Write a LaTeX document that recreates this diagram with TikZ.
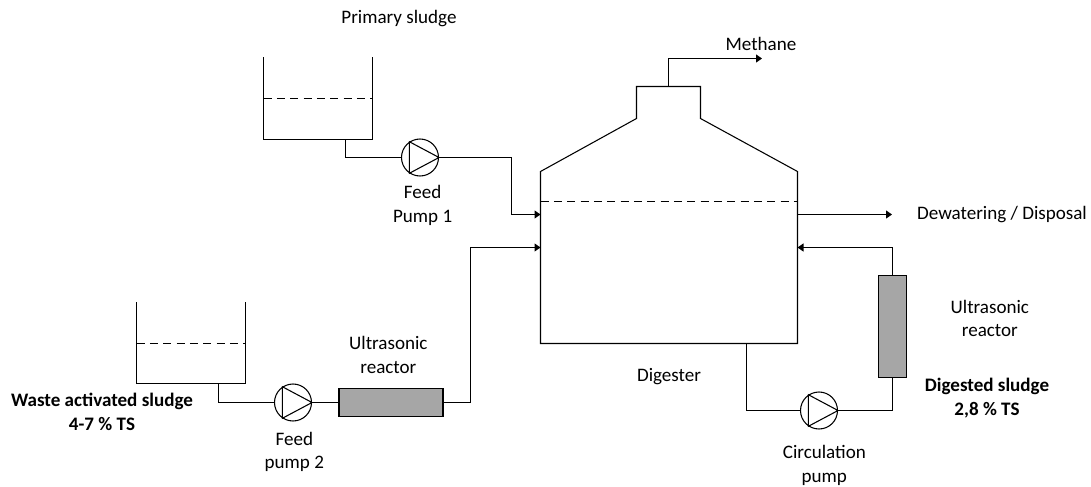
\documentclass[tikz,border=0pt]{standalone}
\usepackage{fontspec}
\setmainfont{Carlito}
\usetikzlibrary{positioning,arrows.meta}
\tikzstyle{arrow} = [line width=0.8pt,->,>={Stealth[length=4.5pt,width=6pt,inset=0pt]}]
\tikzstyle{pipe} = [line width=0.8pt]
\tikzstyle{pump} = [draw, circle, line width=0.8pt, minimum size=27.75pt, inner sep=0pt]
\tikzstyle{reactor} = [draw, line width=0.8pt, fill=black!35, inner sep=0pt]
\tikzstyle{lbl} = [align=center, inner sep=0pt, font=\fontsize{14.3}{17.6}\selectfont]
\tikzstyle{level} = [line width=0.8pt, dash pattern=on 6pt off 4pt]

\begin{document}
\begin{tikzpicture}[x=0.75pt, y=-0.75pt]
    \useasboundingbox (0,0) rectangle (1091,486);

    % storage tanks
    \draw [pipe] (263.5,57) |- (372.5,139.5) -- (372.5,57);
    \draw [level] (263.5,98.5) -- (372.5,98.5);
    \coordinate (tankAout) at (345.5,139.5);
    \node (tankAlbl) [lbl] at (399,19) {Primary sludge};

    \draw [pipe] (136.5,302) |- (245.5,383.5) -- (245.5,302);
    \draw [level] (136.5,343.5) -- (245.5,343.5);
    \coordinate (tankBout) at (218.5,383.5);
    \node (tankBlbl) [lbl] at (102,412) {\textbf{Waste activated sludge}\\\textbf{4-7 \% TS}};

    % digester
    \draw [pipe] (540.5,171.5) -- (636.5,118.5) -- (636.5,86.5) -- (700.5,86.5) -- (700.5,118.5) -- (797.5,171.5) -- (797.5,343.5) -- (540.5,343.5) -- cycle;
    \draw [level] (540.5,201.5) -- (797.5,201.5);
    \node (diglbl) [lbl] at (669,377) {Digester};
    \coordinate (digtop) at (668.5,86.5);
    \coordinate (digfeedA) at (540.5,214.5);
    \coordinate (digfeedB) at (540.5,247.5);
    \coordinate (digout) at (797.5,214.5);
    \coordinate (digret) at (797.5,247.5);
    \coordinate (digbot) at (746.5,343.5);

    % pumps and reactors
    \node (pumpA) [pump] at (420,157.5) {};
    \node (pumpAlbl) [lbl, below of=pumpA, node distance=36pt, xshift=2pt] {Feed\\Pump 1};

    \node (pumpB) [pump] at (293,402.5) {};
    \node (pumpBlbl) [lbl, below of=pumpB, node distance=37pt, xshift=1pt] {Feed\\pump 2};

    \node (pumpC) [pump] at (819,410.5) {};
    \node (pumpClbl) [lbl, below of=pumpC, node distance=41.2pt, xshift=4pt] {Circulation\\pump};

    \foreach \p in {pumpA,pumpB,pumpC}
        \draw [pipe] (\p.124) -- (\p.-124) -- (\p.0) -- cycle;

    \node (reactA) [reactor, minimum width=78pt, minimum height=20.5pt] at (391,402.5) {};
    \node (reactAlbl) [lbl, above of=reactA, node distance=35.5pt, xshift=-2pt] {Ultrasonic\\reactor};

    \node (reactB) [reactor, minimum width=21pt, minimum height=77pt] at (892.5,326.5) {};
    \node (reactBlbl) [lbl, right of=reactB, node distance=73pt, yshift=6pt] {Ultrasonic\\reactor};
    \node (digestlbl) [lbl] at (987,398) {\textbf{Digested sludge}\\\textbf{2,8 \% TS}};

    % products
    \coordinate (methane) at (762,58.5);
    \node (methanelbl) [lbl] at (761,44) {Methane};
    \coordinate (disposal) at (892,214.5);
    \node (disposallbl) [lbl] at (1002,215) {Dewatering / Disposal};

    % pipes
    \draw [pipe] (tankAout) |- (pumpA);
    \draw [arrow] (pumpA) -- ++(91.5,0) |- (digfeedA);
    \draw [pipe] (tankBout) |- (pumpB);
    \draw [pipe] (pumpB) -- (reactA);
    \draw [arrow] (reactA.east) -- ++(27,0) |- (digfeedB);
    \draw [arrow] (digtop) |- (methane);
    \draw [arrow] (digout) -- (disposal);
    \draw [pipe] (digbot) |- (pumpC);
    \draw [pipe] (pumpC) -| (reactB);
    \draw [arrow] (reactB) |- (digret);
\end{tikzpicture}
\end{document}
